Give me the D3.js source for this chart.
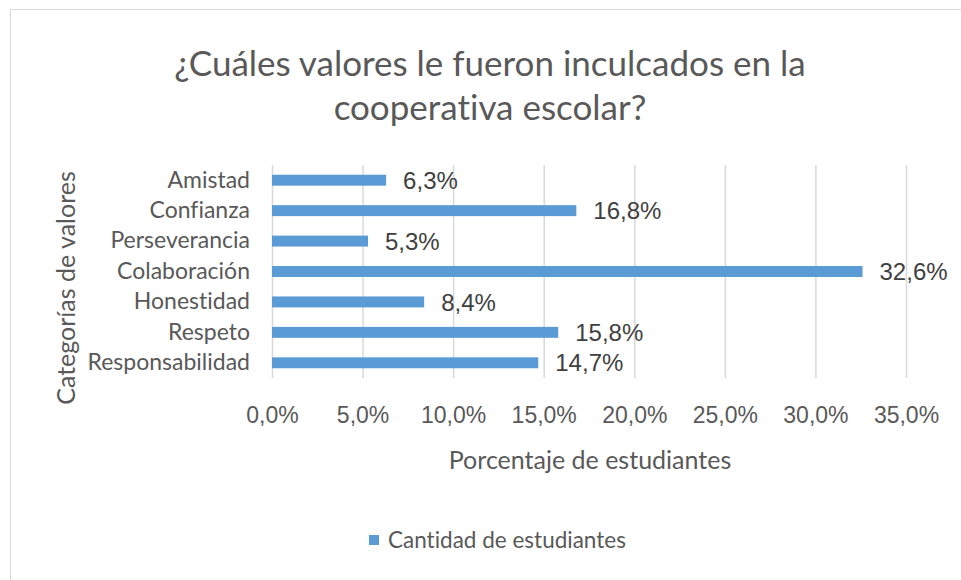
<!DOCTYPE html>
<html>
<head>
<meta charset="utf-8">
<script src="https://cdn.jsdelivr.net/npm/d3@7"></script>
<style>
  body { margin: 0; background: #fff; }
  text { font-variant-ligatures: none; }
  .cat text { font-family: Lato, sans-serif; }
</style>
</head>
<body>
<div id="chart"></div>
<script>
// data
const categories = ['Amistad', 'Confianza', 'Perseverancia', 'Colaboración', 'Honestidad', 'Respeto', 'Responsabilidad'];
const values = [6.3, 16.8, 5.3, 32.6, 8.4, 15.8, 14.7];
const xTicks = [0, 5, 10, 15, 20, 25, 30, 35];
const titleLines = ['¿Cuáles valores le fueron inculcados en la', 'cooperativa escolar?'];
const seriesName = 'Cantidad de estudiantes';

const width = 961;
const height = 580;
const plot = { left: 272, right: 906, top: 165, bottom: 378 };
const barColor = '#5b9bd5';
const fmt = (v) => d3.format('.1f')(v).replace('.', ',') + '%';

const svg = d3.select('#chart').append('svg')
  .attr('width', width)
  .attr('height', height);

// chart frame (cut off at the right and bottom in the source image)
svg.append('rect')
  .attr('x', 10.5).attr('y', 9.5)
  .attr('width', 1000).attr('height', 700)
  .attr('fill', '#fff')
  .attr('stroke', '#d9d9d9');

/* ---------- title ---------- */
svg.append('g')
  .selectAll('text')
  .data(titleLines)
  .join('text')
  .attr('x', 490)
  .attr('y', (d, i) => 76 + i * 44)
  .attr('text-anchor', 'middle')
  .attr('font-family', 'Lato, sans-serif')
  .attr('font-size', 35)
  .attr('fill', '#595959')
  .text((d) => d);

/* ---------- scales ---------- */
const x = d3.scaleLinear()
  .domain([0, 35])
  .range([plot.left, plot.right]);

const y = d3.scaleBand()
  .domain(categories)
  .range([plot.top, plot.bottom])
  .paddingInner(0.64)
  .paddingOuter(0.32);

// gridlines
svg.append('g')
  .attr('transform', `translate(0,${plot.bottom})`)
  .call(d3.axisBottom(x).tickValues(xTicks).tickSize(-(plot.bottom - plot.top)).tickFormat(''))
  .call((g) => g.select('.domain').remove())
  .call((g) => g.selectAll('line').attr('stroke', '#d9d9d9').attr('stroke-width', 1.5));

// x tick labels
svg.append('g')
  .attr('transform', `translate(0,${plot.bottom + 10})`)
  .call(d3.axisBottom(x).tickValues(xTicks).tickSize(0).tickPadding(19).tickFormat(fmt))
  .call((g) => g.select('.domain').remove())
  .call((g) => g.selectAll('text')
    .attr('font-family', '"Liberation Sans", Arial, sans-serif')
    .attr('font-size', 23)
    .attr('fill', '#595959'));

// y category labels
svg.append('g')
  .attr('class', 'cat')
  .attr('transform', `translate(${plot.left},0)`)
  .call(d3.axisLeft(y).tickSize(0).tickPadding(22))
  .call((g) => g.select('.domain').remove())
  .call((g) => g.selectAll('text')
    .attr('font-size', 23)
    .attr('fill', '#595959'));

/* ---------- bars ---------- */
svg.append('g')
  .selectAll('rect')
  .data(values)
  .join('rect')
  .attr('x', x(0))
  .attr('y', (d, i) => y(categories[i]))
  .attr('width', (d) => x(d) - x(0))
  .attr('height', y.bandwidth())
  .attr('fill', barColor);

// data labels
svg.append('g')
  .selectAll('text')
  .data(values)
  .join('text')
  .attr('x', (d) => x(d) + 17)
  .attr('y', (d, i) => y(categories[i]) + y.bandwidth() / 2)
  .attr('dy', '0.36em')
  .attr('font-family', '"Liberation Sans", Arial, sans-serif')
  .attr('font-size', 24)
  .attr('fill', '#404040')
  .text(fmt);

/* ---------- axis titles ---------- */
svg.append('text')
  .attr('x', 590)
  .attr('y', 469)
  .attr('text-anchor', 'middle')
  .attr('font-family', 'Lato, sans-serif')
  .attr('font-size', 25)
  .attr('fill', '#595959')
  .text('Porcentaje de estudiantes');

svg.append('text')
  .attr('transform', 'rotate(-90)')
  .attr('x', -288)
  .attr('y', 75)
  .attr('text-anchor', 'middle')
  .attr('font-family', 'Lato, sans-serif')
  .attr('font-size', 25)
  .attr('fill', '#595959')
  .text('Categorías de valores');

/* ---------- legend ---------- */
const legend = svg.append('g').attr('transform', 'translate(369,535)');
legend.append('rect')
  .attr('width', 10).attr('height', 10)
  .attr('fill', barColor);
legend.append('text')
  .attr('x', 19)
  .attr('y', 5)
  .attr('dy', '0.36em')
  .attr('font-family', 'Lato, sans-serif')
  .attr('font-size', 22.5)
  .attr('fill', '#595959')
  .text(seriesName);
</script>
</body>
</html>
